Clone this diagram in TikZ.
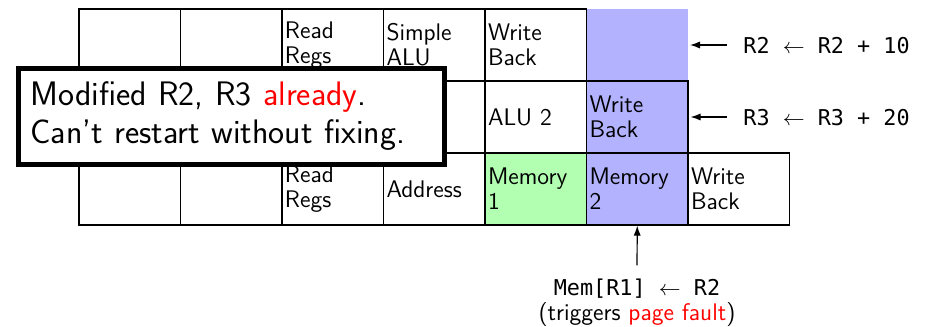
\documentclass[tikz,border=0pt]{standalone}
\usepackage{fontspec}
\newfontfamily\codefont{DejaVu Sans Mono}
\usetikzlibrary{arrows.meta}
\begin{document}
\begin{tikzpicture}[x=0.5pt,y=-0.5pt,font=\sffamily\fontsize{12}{12.5}\selectfont,
  cell/.style={draw, line width=0.6pt, minimum width=50.75pt, minimum height=36pt,
    text width=47.75pt, inner xsep=1.5pt, inner ysep=0pt, align=left, anchor=center},
  hiblue/.style={fill=blue!30},
  higreen/.style={fill=green!30},
  code/.style={font=\codefont\fontsize{10.9}{13}\selectfont},
  arr/.style={-{Latex[length=5pt,width=3.6pt]}, line width=0.6pt},
  note/.style={draw, line width=2.5pt, fill=white, minimum width=213pt, minimum height=48pt,
    text width=201pt, inner xsep=6pt, align=left, font=\sffamily\fontsize{17}{19}\selectfont}]
\useasboundingbox (0,0) rectangle (934,327);
% blue column top (no border)
\fill[blue!30] (586.5,9) rectangle (688,81);
% row 1
\node[cell] (r1c1) at (129.75,45) {};
\node[cell] (r1c2) at (231.25,45) {};
\node[cell] (r1c3) at (332.75,45) {Read\\Regs};
\node[cell] (r1c4) at (434.25,45) {Simple\\ALU};
\node[cell] (r1c5) at (535.75,45) {Write\\Back};
\coordinate (r1c6) at (688,45);
% row 2
\node[cell] (r2c1) at (129.75,117) {};
\node[cell] (r2c2) at (231.25,117) {};
\node[cell] (r2c3) at (332.75,117) {};
\node[cell] (r2c4) at (434.25,117) {};
\node[cell] (r2c5) at (535.75,117) {ALU 2};
\node[cell,hiblue] (r2c6) at (637.25,117) {Write\\Back};
% row 3
\node[cell] (r3c1) at (129.75,189) {};
\node[cell] (r3c2) at (231.25,189) {};
\node[cell] (r3c3) at (332.75,189) {Read\\Regs};
\node[cell] (r3c4) at (434.25,189) {Address};
\node[cell,higreen] (r3c5) at (535.75,189) {Memory\\1};
\node[cell,hiblue] (r3c6) at (637.25,189) {Memory\\2};
\node[cell] (r3c7) at (738.75,189) {Write\\Back};
% right annotations
\node[code, anchor=base west, inner xsep=0pt] (a1) at (743,53) {R2 $\leftarrow$ R2 + 10};
\node[code, anchor=base west, inner xsep=0pt] (a2) at (743,125) {R3 $\leftarrow$ R3 + 20};
\draw[arr, shorten <=8pt, shorten >=1pt] (a1.west |- r1c6) -- (r1c6);
\draw[arr, shorten <=8pt, shorten >=1pt] (a2.west |- r2c6.east) -- (r2c6.east);
% bottom annotation
\node[code, anchor=base] (mem) at (637,295) {Mem[R1] $\leftarrow$ R2};
\node[anchor=base] (pf) at (637,320) {(triggers \textcolor{red}{page fault})};
\draw[arr, shorten <=3pt] (mem.north) -- (r3c6.south);
% overlay note
\node[note] (nt) at (231.5,116.5) {Modified R2, R3 \textcolor{red}{already}.\\Can't restart without fixing.};
\end{tikzpicture}
\end{document}
